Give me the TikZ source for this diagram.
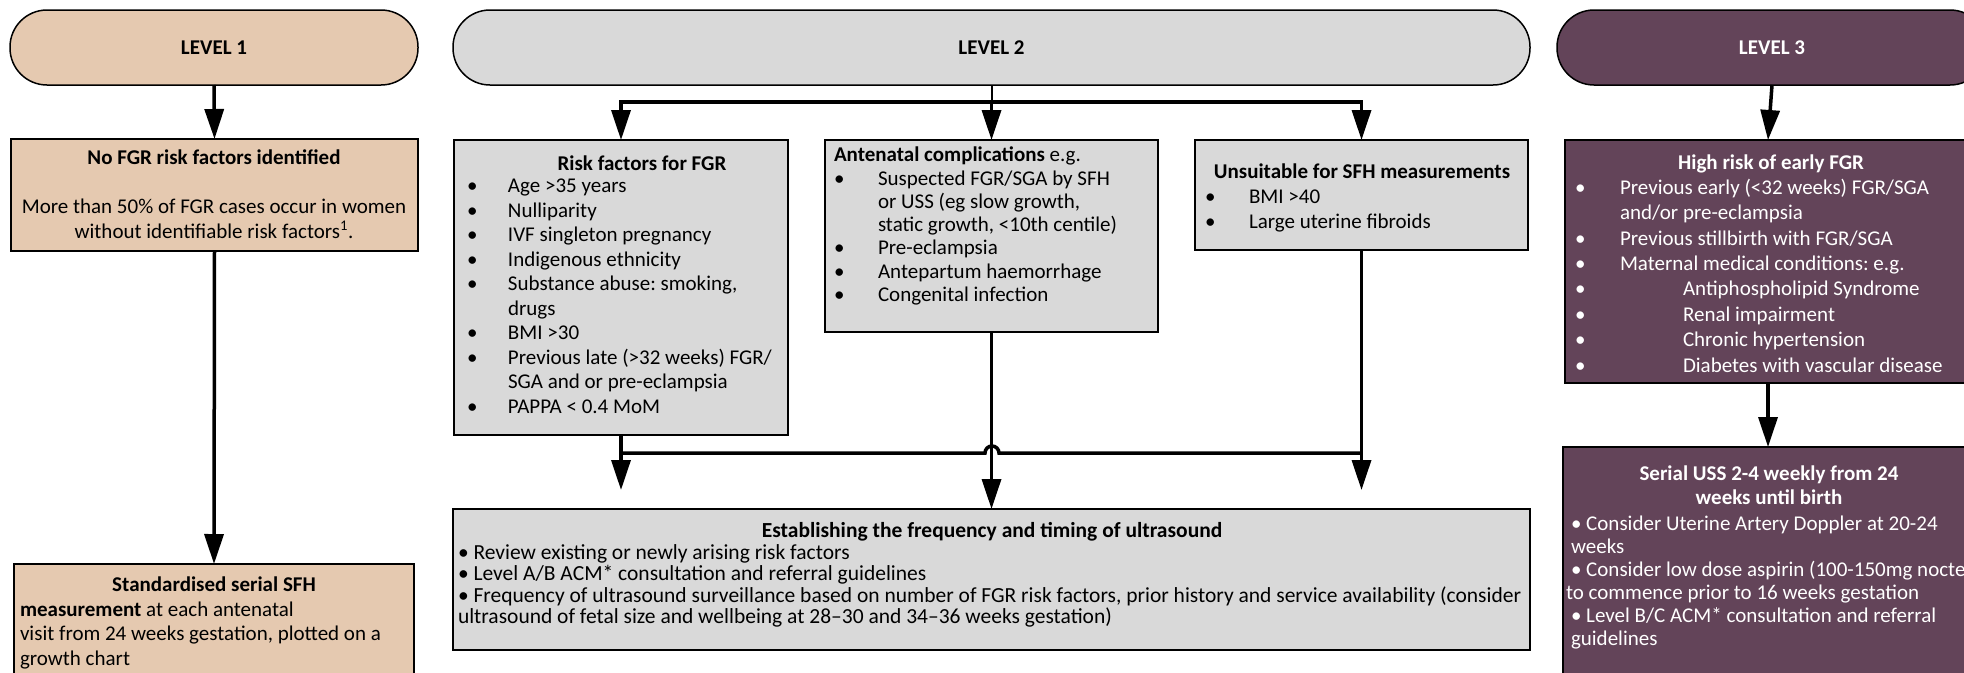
\documentclass[tikz,border=0pt]{standalone}
\usepackage{fontspec}
\setmainfont{Carlito}
\usetikzlibrary{arrows.meta}
\definecolor{tanc}{RGB}{229,201,176}
\definecolor{greyc}{RGB}{217,217,217}
\definecolor{purpc}{RGB}{99,68,89}
\newcommand\bul[1][41pt]{\makebox[#1][l]{•}}
\frenchspacing
\begin{document}
\begin{tikzpicture}[x=1pt,y=-1pt,
 every node/.style={inner sep=0pt, outer sep=0pt},
 pill/.style={draw=black, line width=1.5pt, rounded corners=37pt, anchor=north west, minimum height=75pt, font=\fontsize{21}{24}\selectfont\bfseries},
 box/.style={draw=black, line width=2pt, anchor=north west},
 arr/.style={line width=3.5pt, -{Triangle[length=30pt,width=19pt]}},
 bus/.style={line width=3.5pt},
 txt/.style={font=\fontsize{21}{24.5}\selectfont, align=left, anchor=base west},
 ttl/.style={font=\fontsize{21}{24.5}\selectfont\bfseries, anchor=base},
]
\useasboundingbox (0,0) rectangle (1964,672);
\clip (0,0) rectangle (1964,672);
\fill[white] (0,0) rectangle (1964,672);

% level pills
\node[pill, fill=tanc, minimum width=408pt] (lv1) at (10,10) {LEVEL 1};
\node[pill, fill=greyc, minimum width=1077pt] (lv2) at (453,10) {LEVEL 2};
\node[pill, fill=purpc, minimum width=430pt, text=white] (lv3) at (1557,10) {LEVEL 3};

% boxes
\node[box, fill=tanc, minimum width=407pt, minimum height=112pt] (nofgr) at (11,139) {};
\node[box, fill=tanc, minimum width=400pt, minimum height=140pt] (sfh) at (14,564) {};
\node[box, fill=greyc, minimum width=334pt, minimum height=295pt] (risk) at (454,140) {};
\node[box, fill=greyc, minimum width=333pt, minimum height=192pt] (ante) at (825,140) {};
\node[box, fill=greyc, minimum width=333pt, minimum height=110pt] (unsuit) at (1195,140) {};
\node[box, fill=greyc, minimum width=1077pt, minimum height=141pt] (estab) at (453,509) {};
\node[box, fill=purpc, minimum width=406pt, minimum height=243pt] (high) at (1565,140) {};
\node[box, fill=purpc, minimum width=410pt, minimum height=250pt] (serial) at (1563,447) {};

% connectors level 1
\draw[arr] (lv1.south) -- (nofgr.north);
\draw[arr] (nofgr.south) -- (sfh.north);

% connectors level 2
\coordinate (b2) at (992,102);
\coordinate (b3) at (992,453);
\coordinate (e3) at (992,490);
\draw[line width=2pt] (lv2.south) -- (lv2.south |- b2);
\draw[arr] (ante.north |- b2) -| (risk.north);
\draw[arr] (ante.north |- b2) -| (unsuit.north);
\draw[arr] (ante.north |- b2) -- (ante.north);
\draw[arr] (ante.south) -- (estab.north);
\draw[arr] (risk.south) -- (risk.south |- e3);
\draw[arr] (unsuit.south) -- (unsuit.south |- e3);
\draw[bus] (unsuit.south |- b3) -- ([xshift=7pt]b3) arc(0:-180:7) -- (risk.south |- b3);

% connectors level 3
\draw[arr] (lv3.south) -- (high.north);
\draw[arr] (high.south) -- (serial.north);

% texts level 1
\node[ttl] at (214,164) {No FGR risk factors identified};
\node[txt, align=center, anchor=base] at (214,238.3) {More than 50\% of FGR cases occur in women\\without identifiable risk factors\textsuperscript{1}.};
\node[ttl] at (214,591) {Standardised serial SFH};
\node[txt] at (20,665) {\textbf{measurement} at each antenatal\\visit from 24 weeks gestation, plotted on a\\growth chart};

% texts level 2
\node[ttl] at (642,170) {Risk factors for FGR};
\node[txt] at (467,413) {\bul Age >35 years\\\bul Nulliparity\\\bul IVF singleton pregnancy\\\bul Indigenous ethnicity\\\bul Substance abuse: smoking,\\\hspace*{41pt}drugs\\\bul BMI >30\\\bul Previous late (>32 weeks) FGR/\\\hspace*{41pt}SGA and or pre-eclampsia\\\bul PAPPA < 0.4 MoM};

\node[txt, font=\fontsize{21}{23.3}\selectfont] at (834,301.5) {\textbf{Antenatal complications} e.g.\\\bul[44pt]Suspected FGR/SGA by SFH\\\hspace*{44pt}or USS (eg slow growth,\\\hspace*{44pt}static growth, <10th centile)\\\bul[44pt]Pre-eclampsia\\\bul[44pt]Antepartum haemorrhage\\\bul[44pt]Congenital infection};

\node[ttl] at (1362,178.5) {Unsuitable for SFH measurements};
\node[txt, font=\fontsize{21}{25}\selectfont] at (1205,228.5) {\bul[44pt]BMI >40\\\bul[44pt]Large uterine fibroids};

\node[ttl, font=\fontsize{21.5}{21.3}\selectfont\bfseries] at (992,537) {Establishing the frequency and timing of ultrasound};
\node[txt, font=\fontsize{21.5}{21.3}\selectfont] at (458,623.5) {• Review existing or newly arising risk factors\\• Level A/B ACM* consultation and referral guidelines\\• Frequency of ultrasound surveillance based on number of FGR risk factors, prior history and service availability (consider\\ultrasound of fetal size and wellbeing at 28–30 and 34–36 weeks gestation)};

% texts level 3
\node[ttl, text=white] at (1771,169) {High risk of early FGR};
\node[txt, text=white, font=\fontsize{21}{25.4}\selectfont] at (1575,372) {\bul[45pt]Previous early (<32 weeks) FGR/SGA\\\hspace*{45pt}and/or pre-eclampsia\\\bul[45pt]Previous stillbirth with FGR/SGA\\\bul[45pt]Maternal medical conditions: e.g.\\\bul[108pt]Antiphospholipid Syndrome\\\bul[108pt]Renal impairment\\\bul[108pt]Chronic hypertension\\\bul[108pt]Diabetes with vascular disease};

\node[ttl, text=white, align=center, font=\fontsize{21}{23.5}\selectfont\bfseries] at (1769,504) {Serial USS 2-4 weekly from 24\\weeks until birth};
\node[txt, text=white, font=\fontsize{21}{23}\selectfont] at (1571,645) {• Consider Uterine Artery Doppler at 20-24\\weeks\\• Consider low dose aspirin (100-150mg nocte)\\\hspace*{-5pt}to commence prior to 16 weeks gestation\\• Level B/C ACM* consultation and referral\\guidelines};
\end{tikzpicture}
\end{document}
